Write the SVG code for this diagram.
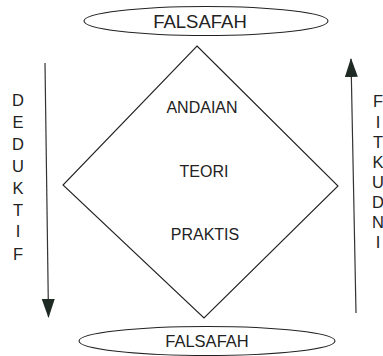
<svg xmlns="http://www.w3.org/2000/svg" width="383" height="356" viewBox="0 0 383 356">
  <style>
    .shape { fill: none; stroke: #222; stroke-width: 1.1; }
    .t { font-family: "Liberation Sans", Arial, sans-serif; fill: #222; text-anchor: middle; }
    .lbl { font-size: 16px; }
    .col { font-size: 16.5px; }
    .conn { stroke: #333; stroke-width: 1.2; fill: none; }
  </style>
  <defs>
    <marker id="ah" markerWidth="19" markerHeight="13" refX="18" refY="6.5" orient="auto" markerUnits="userSpaceOnUse" viewBox="0 0 19 13">
      <path d="M0,0 L19,6.5 L0,13 Z" fill="#1f2a25"/>
    </marker>
  </defs>
  <rect width="383" height="356" fill="#fff"/>

  <g id="falsafah-top">
    <ellipse class="shape" cx="206" cy="21" rx="122" ry="14.5"/>
    <text class="t" x="200" y="28" font-size="18.5">FALSAFAH</text>
  </g>

  <g id="diamond">
    <polygon class="shape" points="197,46 338,186 204,318 63,185"/>
    <text class="t lbl" x="202" y="113">ANDAIAN</text>
    <text class="t lbl" x="204" y="177">TEORI</text>
    <text class="t lbl" x="205" y="240">PRAKTIS</text>
  </g>

  <g id="falsafah-bottom">
    <ellipse class="shape" cx="207" cy="341" rx="128" ry="14.5"/>
    <text class="t" x="207" y="347" font-size="16.5">FALSAFAH</text>
  </g>

  <g id="deduktif">
    <text class="t col" x="18" y="106">D</text>
    <text class="t col" x="18" y="128">E</text>
    <text class="t col" x="18" y="150">D</text>
    <text class="t col" x="18" y="172">U</text>
    <text class="t col" x="18" y="194">K</text>
    <text class="t col" x="18" y="216">T</text>
    <text class="t col" x="18" y="237">I</text>
    <text class="t col" x="18" y="260">F</text>
  </g>

  <g id="induktif">
    <text class="t col" x="378" y="107">F</text>
    <text class="t col" x="378" y="128">I</text>
    <text class="t col" x="378" y="148">T</text>
    <text class="t col" x="378" y="168">K</text>
    <text class="t col" x="378" y="188">U</text>
    <text class="t col" x="378" y="208">D</text>
    <text class="t col" x="378" y="228">N</text>
    <text class="t col" x="378" y="248">I</text>
  </g>

  <g id="connectors">
    <line class="conn" x1="45" y1="63" x2="48.5" y2="317" marker-end="url(#ah)"/>
    <line class="conn" x1="356" y1="313" x2="351" y2="59" marker-end="url(#ah)"/>
  </g>
</svg>
